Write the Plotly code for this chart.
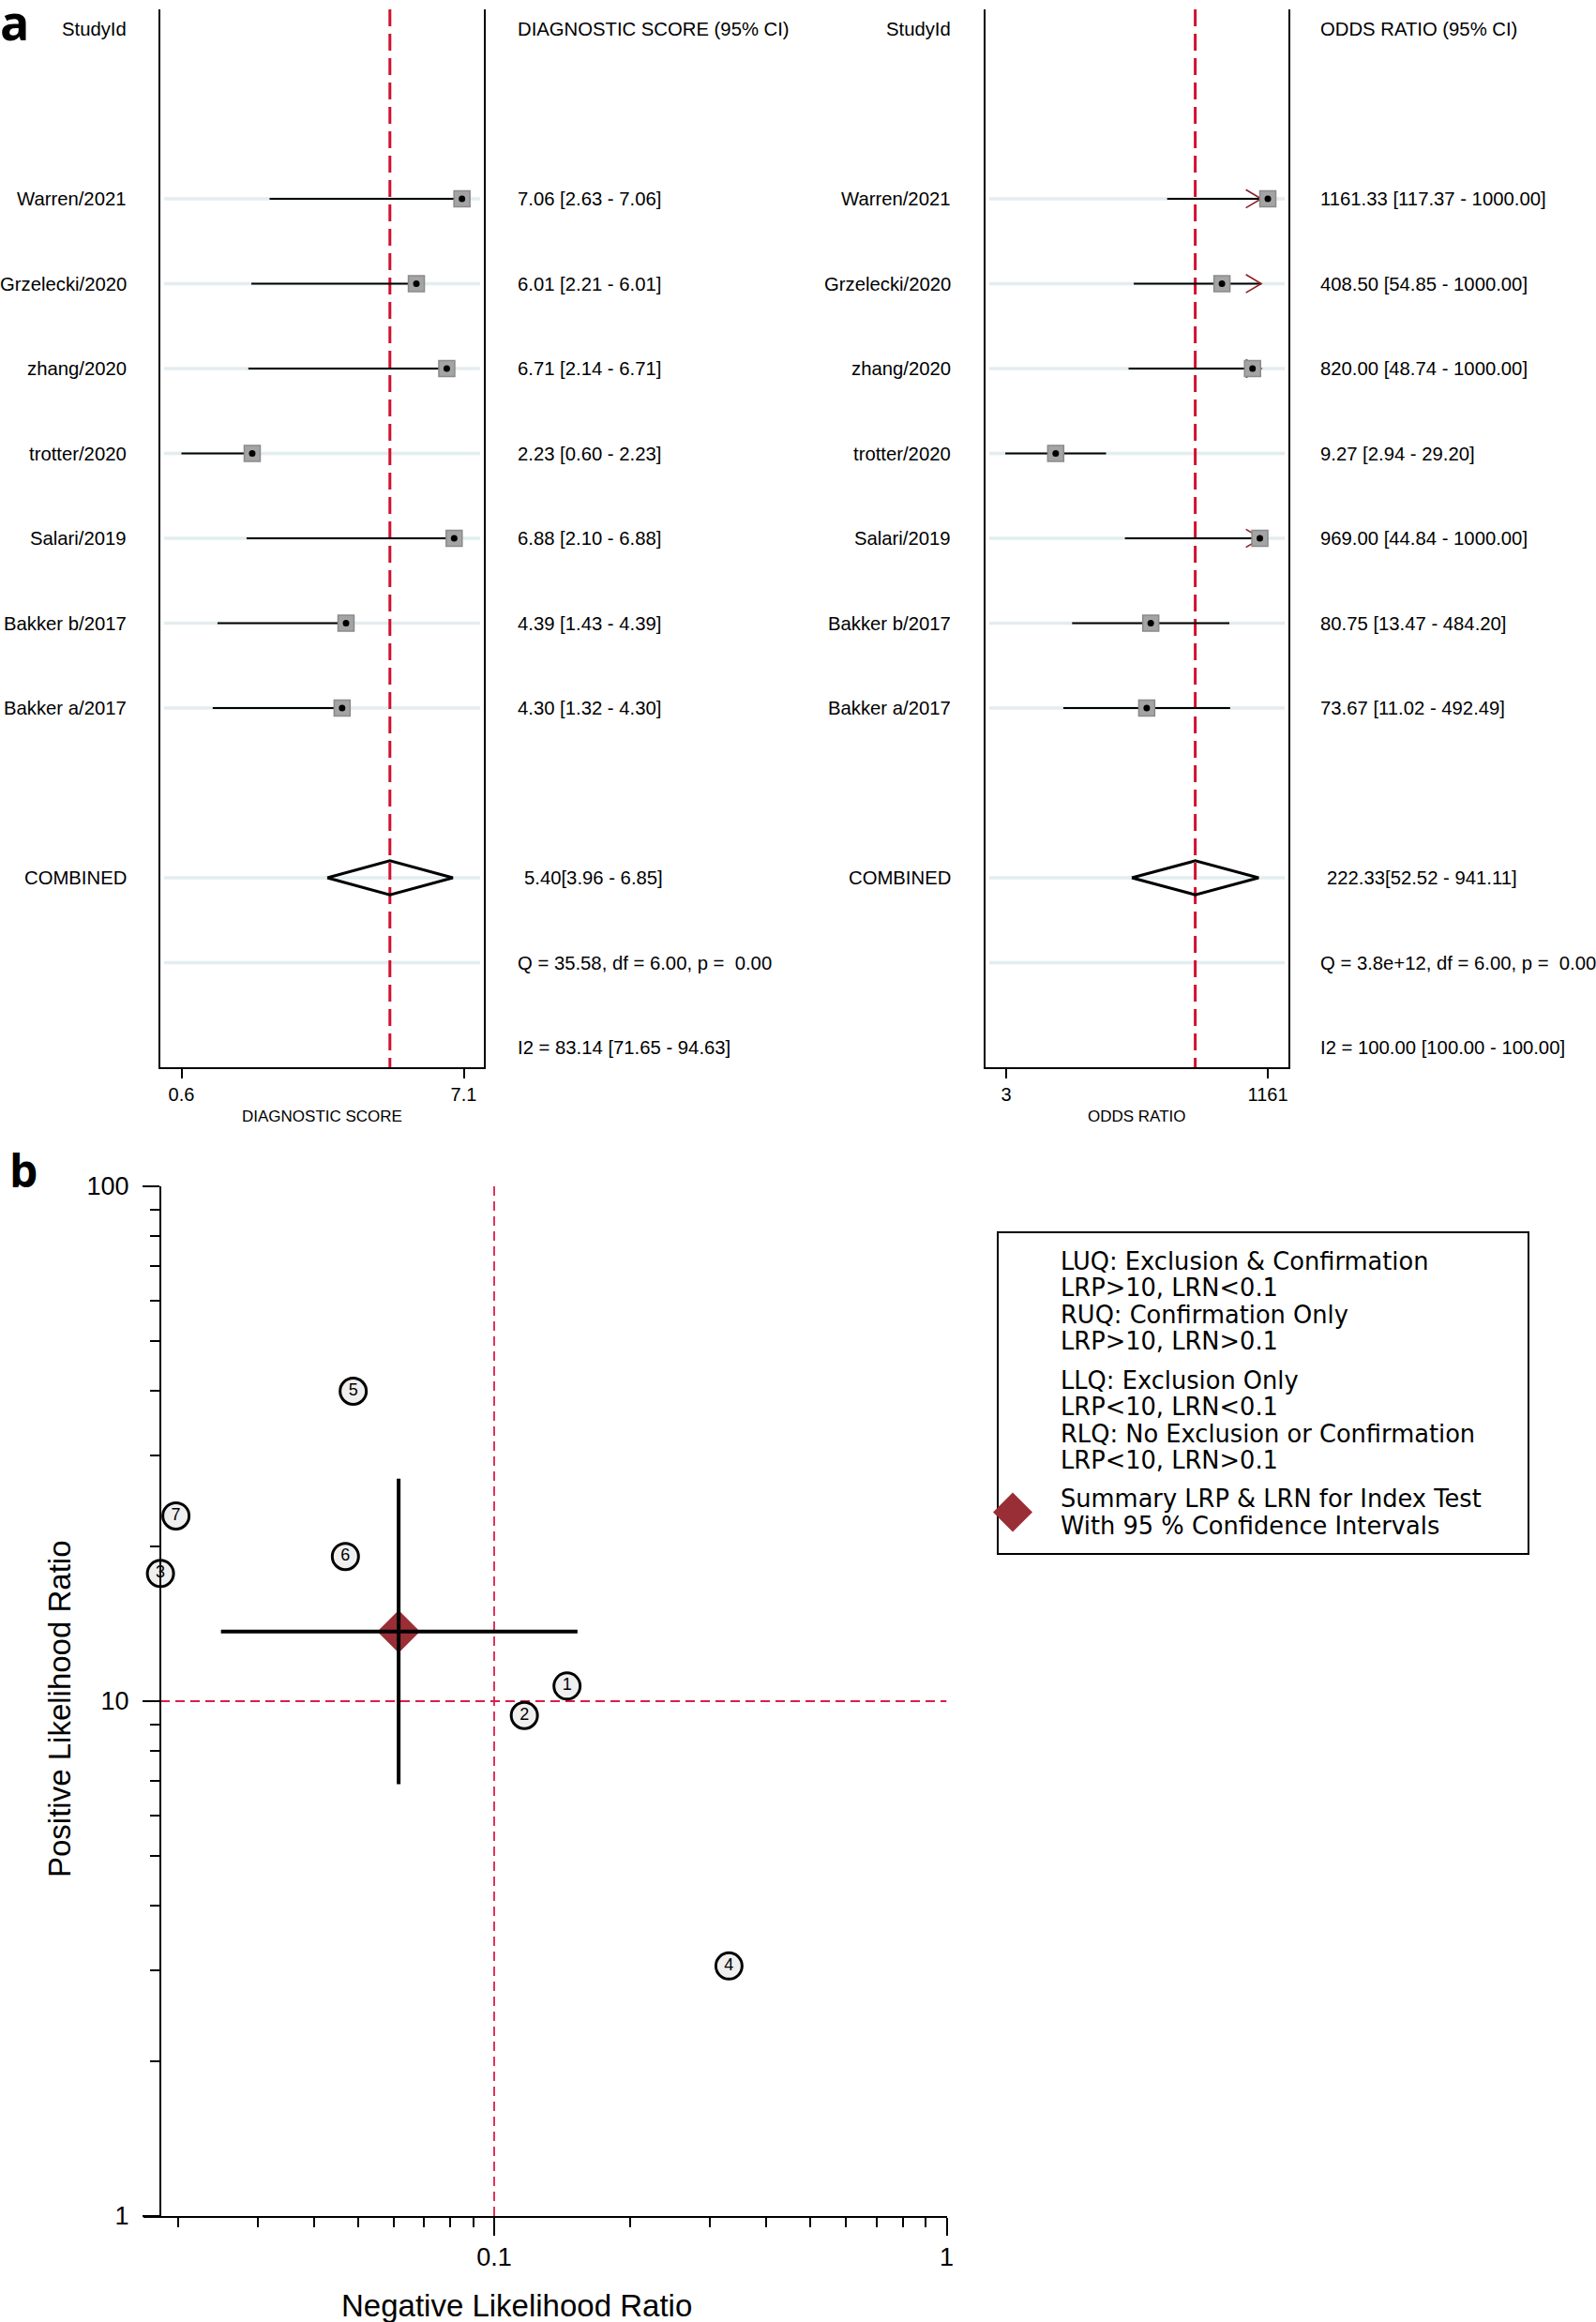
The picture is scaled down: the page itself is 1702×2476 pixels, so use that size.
import math
import plotly.graph_objects as go

W, H = 1702, 2476

# ---------------- data : panel a (forest plots) ----------------
studies = ["Warren/2021", "Grzelecki/2020", "zhang/2020", "trotter/2020",
           "Salari/2019", "Bakker b/2017", "Bakker a/2017"]

ds_est = [7.06, 6.01, 6.71, 2.23, 6.88, 4.39, 4.30]
ds_lo = [2.63, 2.21, 2.14, 0.60, 2.10, 1.43, 1.32]
ds_hi = [7.06, 6.01, 6.71, 2.23, 6.88, 4.39, 4.30]
ds_comb = [5.40, 3.96, 6.85]
ds_q = "Q = 35.58, df = 6.00, p = \u00a00.00"
ds_i2 = "I2 = 83.14 [71.65 - 94.63]"
ds_ticks = [0.6, 7.1]
ds_ticktext = ["0.6", "7.1"]

or_est = [1161.33, 408.50, 820.00, 9.27, 969.00, 80.75, 73.67]
or_lo = [117.37, 54.85, 48.74, 2.94, 44.84, 13.47, 11.02]
or_hi = [1000.00, 1000.00, 1000.00, 29.20, 1000.00, 484.20, 492.49]
or_comb = [222.33, 52.52, 941.11]
or_q = "Q = 3.8e+12, df = 6.00, p = \u00a00.00"
or_i2 = "I2 = 100.00 [100.00 - 100.00]"
or_ticks = [3, 1161]
or_ticktext = ["3", "1161"]
or_cap = 1000.00

# ---------------- data : panel b (likelihood ratio scattergram) ----------------
study_no = ["1", "2", "3", "4", "5", "6", "7"]
lrn = [0.1449, 0.1166, 0.0183, 0.3303, 0.0488, 0.0469, 0.0198]
lrp = [10.70, 9.38, 17.7, 3.06, 40.0, 19.1, 22.9]
sum_lrn = [0.0615, 0.0249, 0.1528]   # estimate, lower, upper
sum_lrp = [13.66, 6.90, 27.06]
lrn_cut = 0.1
lrp_cut = 10
legend_groups = [
    ["LUQ: Exclusion & Confirmation", "LRP>10, LRN<0.1",
     "RUQ: Confirmation Only", "LRP>10, LRN>0.1"],
    ["LLQ: Exclusion Only", "LRP<10, LRN<0.1",
     "RLQ: No Exclusion or Confirmation", "LRP<10, LRN>0.1"],
    ["Summary LRP & LRN for Index Test", "With 95 % Confidence Intervals"],
]
lr_xticks = [0.1, 1]
lr_xminor = [0.02, 0.03, 0.04, 0.05, 0.06, 0.07, 0.08, 0.09,
             0.2, 0.3, 0.4, 0.5, 0.6, 0.7, 0.8, 0.9]
lr_yticks = [1, 10, 100]
lr_yminor = [2, 3, 4, 5, 6, 7, 8, 9, 20, 30, 40, 50, 60, 70, 80, 90]

# ---------------- styling ----------------
FONT = "Liberation Sans, Arial, sans-serif"
WIDE = "DejaVu Sans, Verdana, sans-serif"
RED = "#d2102f"
RED_B = "#d81e4a"
DIAMOND = "#9a2e36"
FS = 20.3


def px(x):
    return x / W


def py(y):
    return 1 - y / H


ROW_TOP, ROW_BOT = -2.232, 10.232
HEAD_ROW = -2
n = len(studies)
COMB_ROW = n + 1
Q_ROW = n + 2
I2_ROW = n + 3
rows = list(range(n))

fig = go.Figure()
shapes = []
ann = []


def forest(xa, ya, est, lo, hi, comb, cap=None, arrow_dec=0.152):
    # light row guide lines
    for r in rows + [COMB_ROW, Q_ROW]:
        shapes.append(dict(type="line", xref=xa + " domain", yref=ya,
                           x0=0.012, x1=0.988, y0=r, y1=r, layer="below",
                           line=dict(color="#e3edef", width=3.5)))
    # reference line at pooled estimate
    fig.add_trace(go.Scatter(x=[comb[0], comb[0]], y=[ROW_TOP, ROW_BOT],
                             mode="lines", xaxis=xa, yaxis=ya,
                             line=dict(color=RED, width=3, dash="18px,8px")))
    # CI lines
    cx, cy = [], []
    for r, l, h in zip(rows, lo, hi):
        cx += [l, h, None]
        cy += [r, r, None]
    fig.add_trace(go.Scatter(x=cx, y=cy, mode="lines", xaxis=xa, yaxis=ya,
                             line=dict(color="black", width=2)))
    # truncated CI arrows
    if cap is not None:
        ax_, ay_ = [], []
        f = 10 ** arrow_dec
        for r, h in zip(rows, hi):
            if h >= cap:
                ax_ += [h / f, h, h / f, None]
                ay_ += [r - 0.107, r, r + 0.107, None]
        fig.add_trace(go.Scatter(x=ax_, y=ay_, mode="lines", xaxis=xa, yaxis=ya,
                                 line=dict(color="#8e1f22", width=1.6)))
    # pooled diamond
    dh = 0.2
    fig.add_trace(go.Scatter(
        x=[comb[1], comb[0], comb[2], comb[0], comb[1]],
        y=[COMB_ROW, COMB_ROW - dh, COMB_ROW, COMB_ROW + dh, COMB_ROW],
        mode="lines", xaxis=xa, yaxis=ya,
        line=dict(color="black", width=3)))
    # study squares + dots
    fig.add_trace(go.Scatter(x=est, y=rows, mode="markers", xaxis=xa, yaxis=ya,
                             marker=dict(symbol="square", size=17, color="#a4a4a4",
                                         line=dict(color="#8a8a8a", width=1.5))))
    fig.add_trace(go.Scatter(x=est, y=rows, mode="markers", xaxis=xa, yaxis=ya,
                             marker=dict(symbol="circle", size=7, color="black")))


forest("x", "y", ds_est, ds_lo, ds_hi, ds_comb)
forest("x2", "y2", or_est, or_lo, or_hi, or_comb, cap=or_cap)


def forest_text(label_x, text_x, est, lo, hi, comb, q, i2, title, axis_title, xa):
    def a(x, y, t, anchor, xshift=0):
        ann.append(dict(x=px(x), y=y, xref="paper", yref="y", text=t,
                        xanchor=anchor, yanchor="middle", showarrow=False,
                        xshift=xshift, font=dict(size=FS)))
    a(label_x, HEAD_ROW, "StudyId", "right")
    a(text_x, HEAD_ROW, title, "left")
    for r, s, e, l, h in zip(rows, studies, est, lo, hi):
        a(label_x, r, s, "right")
        a(text_x, r, f"{e:.2f} [{l:.2f} - {h:.2f}]", "left")
    a(label_x, COMB_ROW, "COMBINED", "right")
    a(text_x, COMB_ROW, f"{comb[0]:.2f}[{comb[1]:.2f} - {comb[2]:.2f}]", "left", xshift=7)
    a(text_x, Q_ROW, q, "left")
    a(text_x, I2_ROW, i2, "left")
    ann.append(dict(x=0.5, y=py(1190), xref=xa + " domain", yref="paper", text=axis_title,
                    xanchor="center", yanchor="middle", showarrow=False,
                    font=dict(size=17)))


forest_text(137, 550, ds_est, ds_lo, ds_hi, ds_comb, ds_q, ds_i2,
            "DIAGNOSTIC SCORE (95% CI)", "DIAGNOSTIC SCORE", "x")
forest_text(1016, 1406, or_est, or_lo, or_hi, or_comb, or_q, or_i2,
            "ODDS RATIO (95% CI)", "ODDS RATIO", "x2")

# ---------------- panel b ----------------
X_AT_YAXIS = 10 ** (-1 - (527 - 171) / 482.5)
fig.add_trace(go.Scatter(x=[lrn_cut, lrn_cut], y=[1, 100], mode="lines",
                         xaxis="x3", yaxis="y3",
                         line=dict(color=RED_B, width=1.8, dash="10px,6px")))
fig.add_trace(go.Scatter(x=[X_AT_YAXIS, 1], y=[lrp_cut, lrp_cut], mode="lines",
                         xaxis="x3", yaxis="y3",
                         line=dict(color=RED_B, width=2.2, dash="10px,6px")))
fig.add_trace(go.Scatter(x=[sum_lrn[0]], y=[sum_lrp[0]], mode="markers",
                         xaxis="x3", yaxis="y3",
                         marker=dict(symbol="diamond", size=35, color=DIAMOND,
                                     line=dict(width=0))))
fig.add_trace(go.Scatter(x=[sum_lrn[1], sum_lrn[2], None, sum_lrn[0], sum_lrn[0]],
                         y=[sum_lrp[0], sum_lrp[0], None, sum_lrp[1], sum_lrp[2]],
                         mode="lines", xaxis="x3", yaxis="y3",
                         line=dict(color="black", width=4)))
fig.add_trace(go.Scatter(x=lrn, y=lrp, mode="markers+text", text=study_no,
                         textposition="middle center", cliponaxis=False,
                         textfont=dict(size=18, color="black", family=FONT),
                         xaxis="x3", yaxis="y3",
                         marker=dict(symbol="circle", size=28, color="#efefef",
                                     line=dict(color="black", width=3))))

# legend box
shapes.append(dict(type="rect", xref="paper", yref="paper",
                   x0=px(1064), x1=px(1630), y0=py(1314), y1=py(1657),
                   line=dict(color="black", width=2), fillcolor="rgba(0,0,0,0)"))
line_i = 0
for g, grp in enumerate(legend_groups):
    for t in grp:
        yy = 1345 + line_i * 28.4 + g * 13.1
        ann.append(dict(x=px(1129), y=py(yy), xref="paper", yref="paper", text=t,
                        xanchor="left", yanchor="middle", showarrow=False,
                        font=dict(size=25.7, family=WIDE)))
        line_i += 1
cxl, cyl, hs = 1080, 1612.5, 21
shapes.append(dict(type="path", xref="paper", yref="paper",
                   path=(f"M {px(cxl - hs)} {py(cyl)} L {px(cxl)} {py(cyl - hs)} "
                         f"L {px(cxl + hs)} {py(cyl)} L {px(cxl)} {py(cyl + hs)} Z"),
                   fillcolor=DIAMOND, line=dict(width=0)))

ann.append(dict(x=px(551), y=py(2458), xref="paper", yref="paper",
                text="Negative Likelihood Ratio", xanchor="center", yanchor="middle",
                showarrow=False, font=dict(size=33)))
ann.append(dict(x=px(63), y=py(1822), xref="paper", yref="paper",
                text="Positive Likelihood Ratio", textangle=-90, xanchor="center",
                yanchor="middle", showarrow=False, font=dict(size=33)))

# panel letters
ann.append(dict(x=px(-2), y=py(60), xref="paper", yref="paper", text="<b>a</b>",
                xanchor="left", yanchor="bottom", showarrow=False,
                font=dict(size=52, family="Open Sans, sans-serif")))
ann.append(dict(x=px(8), y=py(1247), xref="paper", yref="paper", text="<b>b</b>",
                xanchor="left", yanchor="middle", showarrow=False,
                font=dict(size=48, family="Open Sans, sans-serif")))

# ---------------- layout ----------------
forest_y = dict(domain=[py(1138), py(10)], range=[ROW_BOT, ROW_TOP],
                showline=True, mirror=True, linecolor="black", linewidth=2,
                showticklabels=False, ticks="", showgrid=False, zeroline=False,
                automargin=False)
forest_x = dict(showline=True, linecolor="black", linewidth=2, ticks="outside",
                ticklen=10, tickwidth=2, tickcolor="black", showgrid=False,
                zeroline=False, tickfont=dict(size=20), automargin=False)

fig.update_layout(
    width=W, height=H,
    margin=dict(l=0, r=0, t=0, b=0, pad=0, autoexpand=False),
    paper_bgcolor="white", plot_bgcolor="white",
    showlegend=False, hovermode=False,
    font=dict(family=FONT, color="black"),
    xaxis=dict(forest_x, domain=[px(171), px(516)], range=[0.1142, 7.564],
               anchor="y", tickmode="array", tickvals=ds_ticks, ticktext=ds_ticktext),
    yaxis=dict(forest_y, anchor="x"),
    xaxis2=dict(forest_x, domain=[px(1051), px(1374)], type="log",
                range=[0.2731, 3.2688], anchor="y2", tickmode="array",
                tickvals=or_ticks, ticktext=or_ticktext),
    yaxis2=dict(forest_y, anchor="x2"),
    xaxis3=dict(domain=[px(153), px(1009.5)], type="log", range=[-1.7751, 0.0],
                anchor="y3", showline=True, linecolor="black", linewidth=2,
                showgrid=False, zeroline=False, ticks="outside", ticklen=19,
                tickwidth=2, tickcolor="black", tickmode="array", automargin=False,
                tickvals=lr_xticks, ticktext=["0.1", "1"], tickfont=dict(size=27),
                minor=dict(tickmode="array", tickvals=lr_xminor, ticks="outside",
                           ticklen=10, tickwidth=2, tickcolor="black", showgrid=False)),
    yaxis3=dict(domain=[py(2363), py(1265)], type="log", range=[0, 2],
                anchor="free", position=px(171), showline=True, linecolor="black",
                linewidth=2, showgrid=False, zeroline=False, ticks="outside",
                ticklen=18, tickwidth=2, tickcolor="black", tickmode="array",
                automargin=False,
                tickvals=lr_yticks, ticktext=["1", "10", "100"],
                tickfont=dict(size=27), ticklabelstandoff=9,
                minor=dict(tickmode="array", tickvals=lr_yminor, ticks="outside",
                           ticklen=10, tickwidth=2, tickcolor="black", showgrid=False)),
    shapes=shapes,
    annotations=ann,
)

fig.write_html(
    "out.html",
    config={"displayModeBar": False},
    post_script=("document.body.style.margin='0px';"
                 "document.body.style.padding='0px';"
                 "document.documentElement.style.overflow='hidden';"),
)
